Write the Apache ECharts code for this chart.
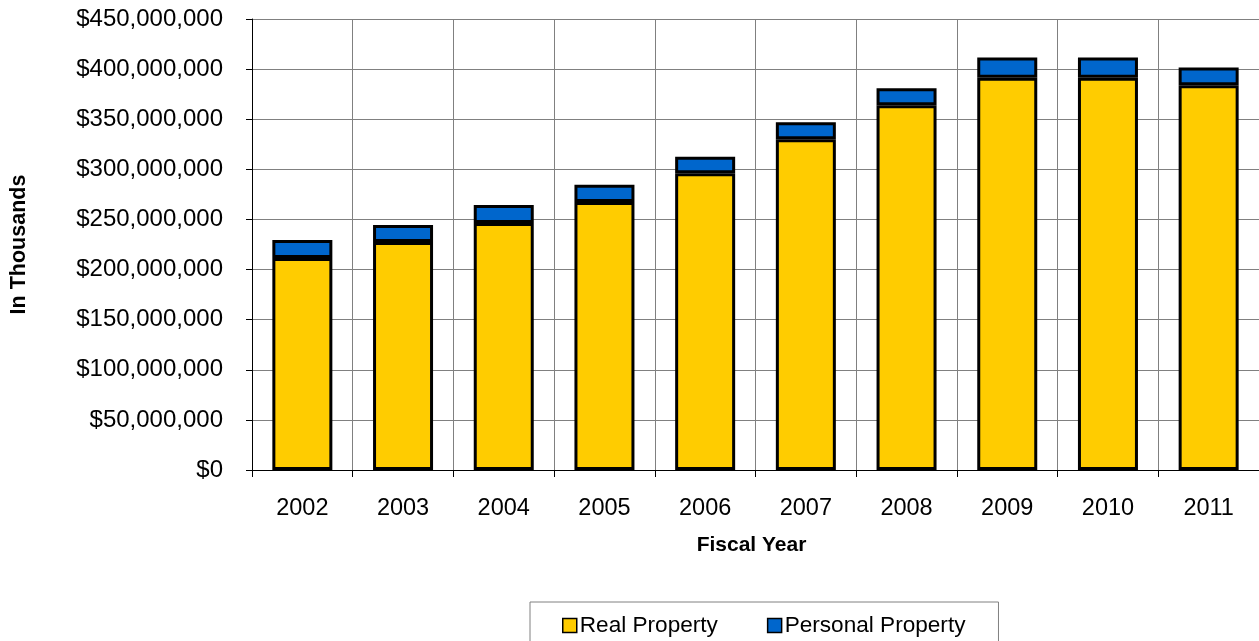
<!DOCTYPE html>
<html><head><meta charset="utf-8">
<script src="https://cdn.jsdelivr.net/npm/echarts@6/dist/echarts.min.js"></script>
<style>html,body{margin:0;padding:0;background:#fff}#c{width:1259px;height:641px}</style>
</head><body><div id="c"></div>
<script>
const categories = ['2002','2003','2004','2005','2006','2007','2008','2009','2010','2011'];
const realProperty = [211500000,227500000,246500000,267500000,296000000,330000000,364000000,391500000,391500000,384000000];
const personalProperty = [18000000,17000000,18000000,17000000,16500000,17000000,17000000,20000000,20000000,17500000];

const chart = echarts.init(document.getElementById('c'));
const fmt = v => '$' + v.toLocaleString('en-US');
chart.setOption({
  animation:false,
  textStyle:{fontFamily:'Liberation Sans, Arial, sans-serif'},
  grid:{left:251,right:0,top:19,bottom:171,containLabel:false},
  xAxis:{type:'category',data:categories,
    name:'Fiscal Year',nameLocation:'middle',nameGap:65,
    nameTextStyle:{fontSize:21,fontWeight:'bold',color:'#000',padding:[0,8,0,0]},
    axisLine:{lineStyle:{color:'#000',width:1}},
    axisTick:{show:true,length:7,lineStyle:{color:'#000'}},
    axisLabel:{fontSize:23.5,color:'#000',margin:27},
    splitLine:{show:true,lineStyle:{color:'#808080',width:1}}},
  yAxis:{type:'value',min:0,max:450000000,interval:50000000,
    name:'In Thousands',nameLocation:'middle',nameGap:222,nameRotate:90,
    nameTextStyle:{fontSize:21.5,fontWeight:'bold',color:'#000'},
    axisLine:{show:true,lineStyle:{color:'#000'}},
    axisTick:{show:true,length:6,lineStyle:{color:'#000'}},
    axisLabel:{fontSize:24,color:'#000',margin:29,formatter:fmt},
    splitLine:{show:true,lineStyle:{color:'#808080',width:1}}},
  legend:{left:530,top:602,
    padding:[12,33,20,32],
    borderColor:'#808080',borderWidth:1,
    itemWidth:14,itemHeight:14,itemGap:49,
    icon:'rect',
    itemStyle:{borderColor:'#000',borderWidth:1.5},
    textStyle:{fontSize:22.6,color:'#000',padding:[0,0,0,-2]},
    data:['Real Property','Personal Property']},
  series:[
    {name:'Real Property',type:'bar',stack:'s',data:realProperty,barWidth:60,
     itemStyle:{color:'#FFCC00',borderColor:'#000',borderWidth:3}},
    {name:'Personal Property',type:'bar',stack:'s',data:personalProperty,barWidth:60,
     itemStyle:{color:'#0066CC',borderColor:'#000',borderWidth:3}}
  ]
});
</script></body></html>
